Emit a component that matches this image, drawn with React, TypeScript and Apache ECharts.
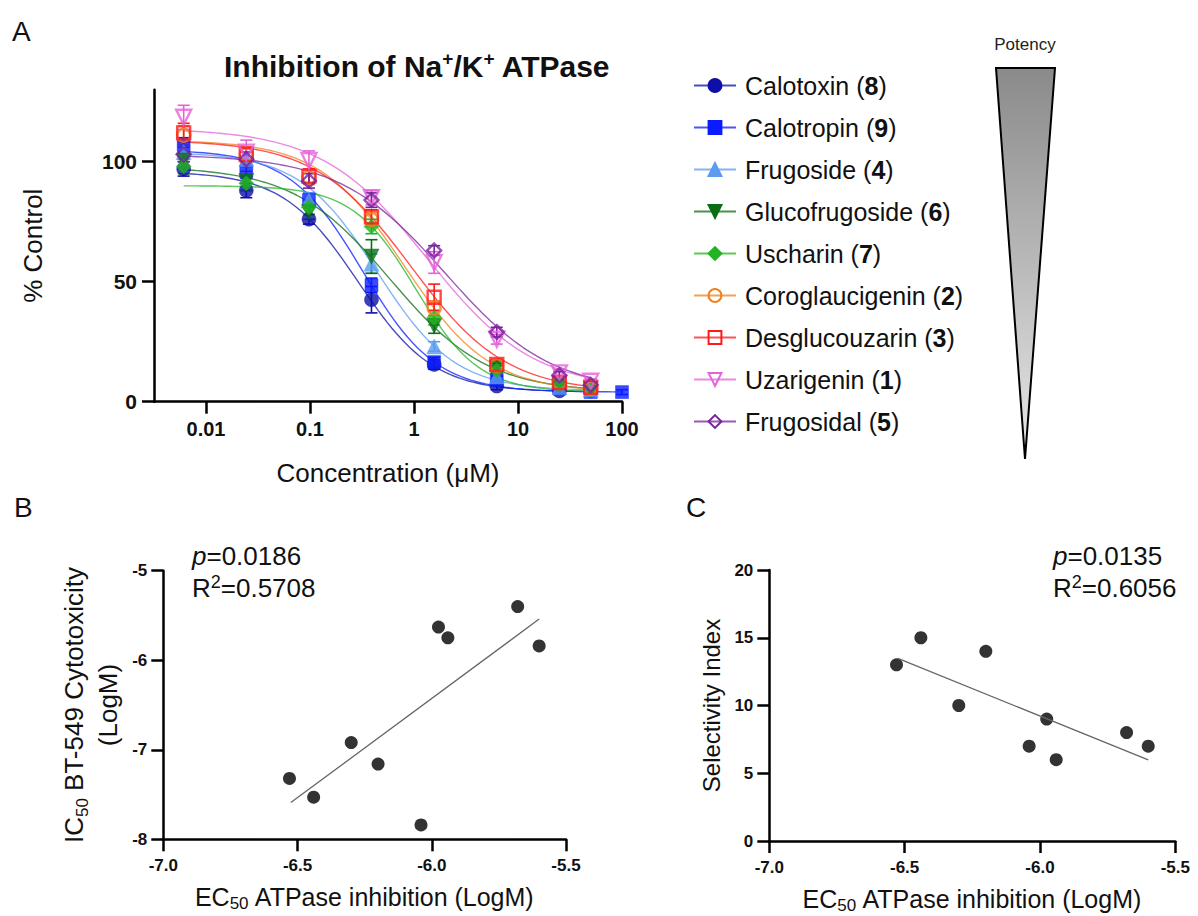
import React, { useEffect, useRef } from 'react';
import * as echarts from 'echarts';

const FONT = '"Liberation Sans", Arial, Helvetica, sans-serif';
const INK = '#111';

// ---------- Panel A data ----------
const compounds = [
  'Calotoxin (8)', 'Calotropin (9)', 'Frugoside (4)', 'Glucofrugoside (6)', 'Uscharin (7)',
  'Coroglaucigenin (2)', 'Desglucouzarin (3)', 'Uzarigenin (1)', 'Frugosidal (5)',
];
const colors = ['#0c10a8', '#0a1cff', '#5a9cf0', '#0b6e14', '#22b422', '#f0821e', '#ff1a1a', '#e662d8', '#7a229e'];
const symbols = ['circle', 'rect', 'triangle', 'triangle', 'diamond', 'circle', 'rect', 'triangle', 'diamond'];
const symbolRotations = [0, 0, 0, 180, 0, 0, 0, 180, 0];
const hollow = [false, false, false, false, false, true, true, true, true];
const symbolSizes = [14, 13, 15, 15, 15, 13, 13, 15, 14];

// concentrations in µM
const concentrations = [0.0061, 0.0244, 0.0977, 0.39, 1.5625, 6.25, 25, 50, 100];

// % control
const calotoxin = [97, 88, 76, 42.5, 15.5, 6.5, 4.5, 4.5];
const calotropin = [107, 96, 84, 48.5, 16.5, 9, 5.5, 4, 4];
const frugoside = [104, 101, 84, 57.5, 23, 10.5, 6, 5];
const glucofrugoside = [100.5, 92, 79, 60.5, 31.5, 14, 7.5, 5.5];
const uscharin = [98, 91, 81, 73, 35, 13, 7, 5];
const coroglaucigenin = [111, 103, 93.5, 76, 39, 15, 8, 5.5];
const desglucouzarin = [112, 103, 94, 77, 43.5, 15.5, 8, 6];
const uzarigenin = [118.5, 104, 100.5, 85, 58, 26, 12, 8.5];
const frugosidal = [103, 101, 92, 84, 63, 29, 11, 7];

// SEM
const calotoxinErr = [3, 3, 2, 5.5, 2, 1.5, 1, 1];
const calotropinErr = [3, 3, 3, 3, 2, 1.5, 1, 1, 1];
const frugosideErr = [3, 3, 3, 4, 2, 1.5, 1, 1];
const glucofrugosideErr = [3, 4, 3, 7, 3, 2, 1, 1];
const uscharinErr = [3, 3, 3, 3, 3, 2, 1, 1];
const coroglaucigeninErr = [4, 3, 3, 3, 3, 2, 1, 1];
const desglucouzarinErr = [4, 3, 3, 3, 5.5, 2, 1, 1];
const uzarigeninErr = [5, 5, 4, 3, 4.5, 2, 1.5, 1];
const frugosidalErr = [3, 3, 3, 3, 2, 2, 1.5, 1];

// fitted dose-response parameters
const fitTop = [96, 105, 104, 98, 90, 109, 109, 114, 103];
const fitBottom = [4, 4, 4.5, 4, 4, 4, 4, 5, 4];
const fitEC50 = [0.29, 0.32, 0.44, 0.59, 1.04, 0.81, 0.93, 1.35, 2.0];
const fitHill = [1.2, 1.23, 1.16, 0.93, 1.43, 1.06, 0.95, 0.85, 0.85];

const xTickValues = [0.01, 0.1, 1, 10, 100];
const xTickLabels = ['0.01', '0.1', '1', '10', '100'];
const yTickValuesA = [0, 50, 100];

// ---------- Panel B / C data ----------
const ec50Log = [-6.53, -6.44, -6.30, -6.20, -6.04, -5.975, -5.94, -5.68, -5.60];
const ic50Log = [-7.32, -7.53, -6.92, -7.16, -7.84, -5.63, -5.75, -5.40, -5.84];
const selectivity = [13, 15, 10, 14, 7, 9, 6, 8, 7];
const fitX = [-6.525, -5.60];
const fitIC50 = [-7.59, -5.54];
const fitSelectivity = [13.48, 5.98];

const App: React.FC = () => {
  const ref = useRef<HTMLDivElement>(null);

  useEffect(() => {
    if (!ref.current) return;
    const chart = echarts.init(ref.current, null, { renderer: 'svg' });

    const values = [calotoxin, calotropin, frugoside, glucofrugoside, uscharin, coroglaucigenin, desglucouzarin, uzarigenin, frugosidal];
    const errs = [calotoxinErr, calotropinErr, frugosideErr, glucofrugosideErr, uscharinErr, coroglaucigeninErr, desglucouzarinErr, uzarigeninErr, frugosidalErr];

    const itemStyleFor = (i: number) =>
      hollow[i]
        ? { color: 'rgba(255,255,255,0)', borderColor: colors[i], borderWidth: 2.4 }
        : { color: colors[i], borderColor: colors[i], borderWidth: 0.5 };

    const curveSeries = compounds.map((name, i) => {
      const n = values[i].length;
      const x0 = Math.log10(concentrations[0]);
      const x1 = Math.log10(concentrations[n - 1]);
      const pts: number[][] = [];
      const steps = 90;
      for (let k = 0; k <= steps; k++) {
        const lx = x0 + ((x1 - x0) * k) / steps;
        const c = Math.pow(10, lx);
        const y = fitBottom[i] + (fitTop[i] - fitBottom[i]) / (1 + Math.pow(c / fitEC50[i], fitHill[i]));
        pts.push([lx, y]);
      }
      return {
        name,
        type: 'line',
        xAxisIndex: 0,
        yAxisIndex: 0,
        data: pts,
        showSymbol: false,
        symbol: symbols[i],
        symbolRotate: symbolRotations[i],
        symbolSize: symbolSizes[i],
        itemStyle: itemStyleFor(i),
        lineStyle: { color: colors[i], width: 1.4, opacity: 0.75 },
        silent: true,
        z: 2,
      };
    });

    const pointSeries: any[] = [];
    compounds.forEach((name, i) => {
      const errData = values[i].map((v, k) => [Math.log10(concentrations[k]), v - errs[i][k], v + errs[i][k]]);
      pointSeries.push({
        name,
        type: 'custom',
        xAxisIndex: 0,
        yAxisIndex: 0,
        data: errData,
        encode: { x: 0, y: [1, 2] },
        silent: true,
        z: 3,
        renderItem: (_params: any, api: any) => {
          const x = api.value(0);
          const pLo = api.coord([x, api.value(1)]);
          const pHi = api.coord([x, api.value(2)]);
          const w = 6;
          const style = { stroke: colors[i], lineWidth: 1.6, fill: 'none' };
          return {
            type: 'group',
            children: [
              { type: 'line', shape: { x1: pLo[0], y1: pLo[1], x2: pHi[0], y2: pHi[1] }, style },
              { type: 'line', shape: { x1: pHi[0] - w, y1: pHi[1], x2: pHi[0] + w, y2: pHi[1] }, style },
              { type: 'line', shape: { x1: pLo[0] - w, y1: pLo[1], x2: pLo[0] + w, y2: pLo[1] }, style },
            ],
          };
        },
      });
      pointSeries.push({
        name,
        type: 'scatter',
        xAxisIndex: 0,
        yAxisIndex: 0,
        data: values[i].map((v, k) => [Math.log10(concentrations[k]), v]),
        symbol: symbols[i],
        symbolRotate: symbolRotations[i],
        symbolSize: symbolSizes[i],
        itemStyle: itemStyleFor(i),
        silent: true,
        z: 4,
      });
    });

    const axisLine = { show: true, onZero: false, lineStyle: { color: '#000', width: 2.5 } };
    const axisTick = { show: true, length: 12, lineStyle: { color: '#000', width: 2.5 } };
    const boldLabel = (size: number, margin: number) => ({
      fontFamily: FONT, fontWeight: 'bold', fontSize: size, color: INK, margin,
    });
    const subRichX = {
      sub: { fontSize: 17, verticalAlign: 'bottom', lineHeight: 30, fontFamily: FONT, color: INK },
      n: { fontSize: 25, lineHeight: 30, fontFamily: FONT, color: INK },
    };
    const subRichY = {
      sub: { fontSize: 17, verticalAlign: 'bottom', lineHeight: 34, fontFamily: FONT, color: INK },
      n: { fontSize: 26, lineHeight: 34, fontFamily: FONT, color: INK },
    };

    const option: any = {
      animation: false,
      textStyle: { fontFamily: FONT },
      title: {
        text: '{t|Inhibition of Na}{s|+}{t|/K}{s|+}{t| ATPase}',
        left: 219,
        top: 44,
        textStyle: {
          rich: {
            t: { fontSize: 30, fontWeight: 'bold', fontFamily: FONT, color: INK, lineHeight: 34 },
            s: { fontSize: 19, fontWeight: 'bold', fontFamily: FONT, color: INK, lineHeight: 34, verticalAlign: 'top' },
          },
        },
      },
      legend: {
        data: compounds,
        orient: 'vertical',
        left: 693,
        top: 73,
        padding: 0,
        itemWidth: 42,
        itemHeight: 16,
        itemGap: 17,
        selectedMode: false,
        formatter: (name: string) => name.replace(/\((\d+)\)/, '({b|$1})'),
        textStyle: {
          fontSize: 25,
          fontFamily: FONT,
          color: INK,
          padding: [0, 0, 0, 4],
          rich: { b: { fontSize: 25, fontWeight: 'bold', fontFamily: FONT, color: INK } },
        },
      },
      grid: [
        { left: 154, top: 89.7, width: 468, height: 312 },
        { left: 163.3, top: 570.7, width: 402.7, height: 268.6 },
        { left: 769.3, top: 570, width: 406, height: 271 },
      ],
      xAxis: [
        {
          gridIndex: 0, type: 'value', min: -2.5, max: 2,
          axisLine, splitLine: { show: false },
          axisTick: { ...axisTick, customValues: xTickValues.map((v) => Math.log10(v)) },
          axisLabel: {
            ...boldLabel(20, 17),
            customValues: xTickValues.map((v) => Math.log10(v)),
            formatter: (v: number) => {
              const idx = xTickValues.findIndex((t) => Math.abs(Math.log10(t) - v) < 1e-6);
              return idx >= 0 ? xTickLabels[idx] : '';
            },
          },
          name: 'Concentration (\u03BCM)', nameLocation: 'middle', nameGap: 58,
          nameTextStyle: { fontSize: 26, fontFamily: FONT, color: INK },
        },
        {
          gridIndex: 1, type: 'value', min: -7, max: -5.5, interval: 0.5,
          axisLine, axisTick, splitLine: { show: false },
          axisLabel: { ...boldLabel(17, 18), formatter: (v: number) => v.toFixed(1) },
          name: '{n|EC}{sub|50}{n| ATPase inhibition (LogM)}', nameLocation: 'middle', nameGap: 43,
          nameTextStyle: { fontSize: 25, fontFamily: FONT, color: INK, rich: subRichX },
        },
        {
          gridIndex: 2, type: 'value', min: -7, max: -5.5, interval: 0.5,
          axisLine, axisTick, splitLine: { show: false },
          axisLabel: { ...boldLabel(17, 18), formatter: (v: number) => v.toFixed(1) },
          name: '{n|EC}{sub|50}{n| ATPase inhibition (LogM)}', nameLocation: 'middle', nameGap: 43,
          nameTextStyle: { fontSize: 25, fontFamily: FONT, color: INK, rich: subRichX },
        },
      ],
      yAxis: [
        {
          gridIndex: 0, type: 'value', min: 0, max: 130,
          axisLine, splitLine: { show: false },
          axisTick: { ...axisTick, customValues: yTickValuesA },
          axisLabel: { ...boldLabel(21, 17), customValues: yTickValuesA },
          name: '% Control', nameLocation: 'middle', nameGap: 108,
          nameTextStyle: { fontSize: 26, fontFamily: FONT, color: INK },
        },
        {
          gridIndex: 1, type: 'value', min: -8, max: -5, interval: 1,
          axisLine, axisTick, splitLine: { show: false },
          axisLabel: boldLabel(17, 16),
          name: '{n|IC}{sub|50}{n| BT-549 Cytotoxicity}\n{n|(LogM)}', nameLocation: 'middle', nameGap: 38,
          nameTextStyle: { fontSize: 26, fontFamily: FONT, color: INK, align: 'center', lineHeight: 34, rich: subRichY },
        },
        {
          gridIndex: 2, type: 'value', min: 0, max: 20, interval: 5,
          axisLine, axisTick, splitLine: { show: false },
          axisLabel: boldLabel(17, 16),
          name: 'Selectivity Index', nameLocation: 'middle', nameGap: 46,
          nameTextStyle: { fontSize: 24, fontFamily: FONT, color: INK },
        },
      ],
      series: [
        ...curveSeries,
        ...pointSeries,
        {
          name: 'IC50 fit', type: 'line', xAxisIndex: 1, yAxisIndex: 1,
          data: fitX.map((x, k) => [x, fitIC50[k]]),
          showSymbol: false, lineStyle: { color: '#666', width: 1.3 }, silent: true,
        },
        {
          name: 'IC50 vs EC50', type: 'scatter', xAxisIndex: 1, yAxisIndex: 1,
          data: ec50Log.map((x, k) => [x, ic50Log[k]]),
          symbol: 'circle', symbolSize: 13, itemStyle: { color: '#000' }, silent: true,
        },
        {
          name: 'SI fit', type: 'line', xAxisIndex: 2, yAxisIndex: 2,
          data: fitX.map((x, k) => [x, fitSelectivity[k]]),
          showSymbol: false, lineStyle: { color: '#666', width: 1.3 }, silent: true,
        },
        {
          name: 'SI vs EC50', type: 'scatter', xAxisIndex: 2, yAxisIndex: 2,
          data: ec50Log.map((x, k) => [x, selectivity[k]]),
          symbol: 'circle', symbolSize: 13, itemStyle: { color: '#000' }, silent: true,
        },
      ],
      graphic: [
        { type: 'text', x: 12, y: 31, style: { text: 'A', fontSize: 28, fontFamily: FONT, fill: INK, align: 'left', verticalAlign: 'middle' } },
        { type: 'text', x: 14, y: 507, style: { text: 'B', fontSize: 28, fontFamily: FONT, fill: INK, align: 'left', verticalAlign: 'middle' } },
        { type: 'text', x: 686, y: 507, style: { text: 'C', fontSize: 28, fontFamily: FONT, fill: INK, align: 'left', verticalAlign: 'middle' } },
        { type: 'text', x: 1025, y: 44, style: { text: 'Potency', fontSize: 17, fontFamily: FONT, fill: '#222', align: 'center', verticalAlign: 'middle' } },
        {
          type: 'polygon',
          shape: { points: [[996, 68], [1055, 68], [1025, 459]] },
          style: {
            fill: new echarts.graphic.LinearGradient(0, 0, 0, 1, [
              { offset: 0, color: '#8a8a8a' },
              { offset: 1, color: '#e8e8e8' },
            ]),
            stroke: '#000',
            lineWidth: 2,
          },
        },
        {
          type: 'text', x: 192, y: 556,
          style: {
            text: '{i|p}{n|=0.0186}', align: 'left', verticalAlign: 'middle',
            rich: { i: { fontSize: 26, fontStyle: 'italic', fontFamily: FONT, fill: INK }, n: { fontSize: 26, fontFamily: FONT, fill: INK } },
          },
        },
        {
          type: 'text', x: 192, y: 588,
          style: {
            text: '{n|R}{s|2}{n|=0.5708}', align: 'left', verticalAlign: 'middle',
            rich: {
              n: { fontSize: 26, fontFamily: FONT, fill: INK, lineHeight: 30 },
              s: { fontSize: 18, fontFamily: FONT, fill: INK, lineHeight: 30, verticalAlign: 'top' },
            },
          },
        },
        {
          type: 'text', x: 1053, y: 556,
          style: {
            text: '{i|p}{n|=0.0135}', align: 'left', verticalAlign: 'middle',
            rich: { i: { fontSize: 26, fontStyle: 'italic', fontFamily: FONT, fill: INK }, n: { fontSize: 26, fontFamily: FONT, fill: INK } },
          },
        },
        {
          type: 'text', x: 1053, y: 588,
          style: {
            text: '{n|R}{s|2}{n|=0.6056}', align: 'left', verticalAlign: 'middle',
            rich: {
              n: { fontSize: 26, fontFamily: FONT, fill: INK, lineHeight: 30 },
              s: { fontSize: 18, fontFamily: FONT, fill: INK, lineHeight: 30, verticalAlign: 'top' },
            },
          },
        },
      ],
    };

    chart.setOption(option);
    return () => chart.dispose();
  }, []);

  return (
    <div
      ref={ref}
      style={{ position: 'fixed', left: 0, top: 0, width: 1198, height: 916, background: '#fff' }}
    />
  );
};

export default App;
